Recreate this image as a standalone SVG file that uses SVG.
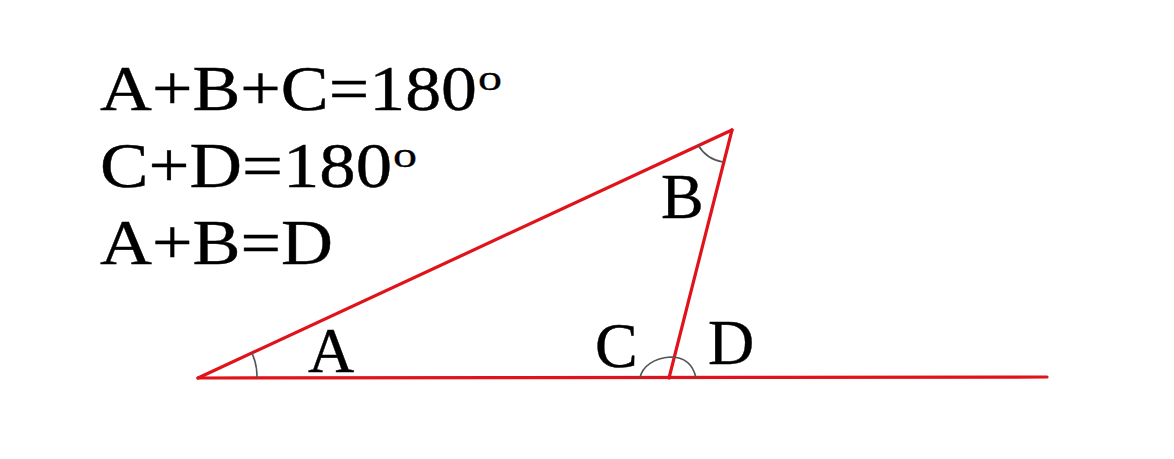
<svg xmlns="http://www.w3.org/2000/svg" width="1174" height="459" viewBox="0 0 1174 459">
<style>
.eq{font-family:"Liberation Serif","Times New Roman",serif;font-size:64px;fill:#000;stroke:#000;stroke-width:0.4}
.lbl{font-family:"Liberation Serif","Times New Roman",serif;font-size:64px;fill:#000;stroke:#000;stroke-width:0.4}
.sup{font-size:36px;stroke-width:0.3}
.edge{stroke:#e0121a;stroke-width:3.2;fill:none;stroke-linecap:round}
.arc{stroke:#555;stroke-width:1.6;fill:none}
</style>
<rect width="1174" height="459" fill="#fff"/>
<g id="equations">
<text class="eq" x="100" y="110" textLength="377" lengthAdjust="spacingAndGlyphs">A+B+C=180</text>
<text class="eq sup" x="478" y="90" textLength="24" lengthAdjust="spacingAndGlyphs">o</text>
<text class="eq" x="100" y="187" textLength="292" lengthAdjust="spacingAndGlyphs">C+D=180</text>
<text class="eq sup" x="393" y="167" textLength="24" lengthAdjust="spacingAndGlyphs">o</text>
<text class="eq" x="100" y="264" textLength="233" lengthAdjust="spacingAndGlyphs">A+B=D</text>
</g>
<g id="connectors">
<line class="edge" x1="198" y1="378" x2="1047" y2="377"/>
<line class="edge" x1="198" y1="378" x2="732" y2="130"/>
<line class="edge" x1="732" y1="130" x2="669" y2="378"/>
</g>
<g id="angles">
<path class="arc" d="M252,353 A59,59 0 0 1 257,378"/>
<path class="arc" d="M698,145 A36,36 0 0 0 723,162"/>
<path class="arc" d="M640,378 C642,366 655,358 670,357 C684,357 693,364 696,378"/>
</g>
<g id="label-A"><text class="lbl" x="308" y="372">A</text></g>
<g id="label-B"><text class="lbl" x="661" y="218">B</text></g>
<g id="label-C"><text class="lbl" x="595" y="367">C</text></g>
<g id="label-D"><text class="lbl" x="708" y="364">D</text></g>
</svg>
